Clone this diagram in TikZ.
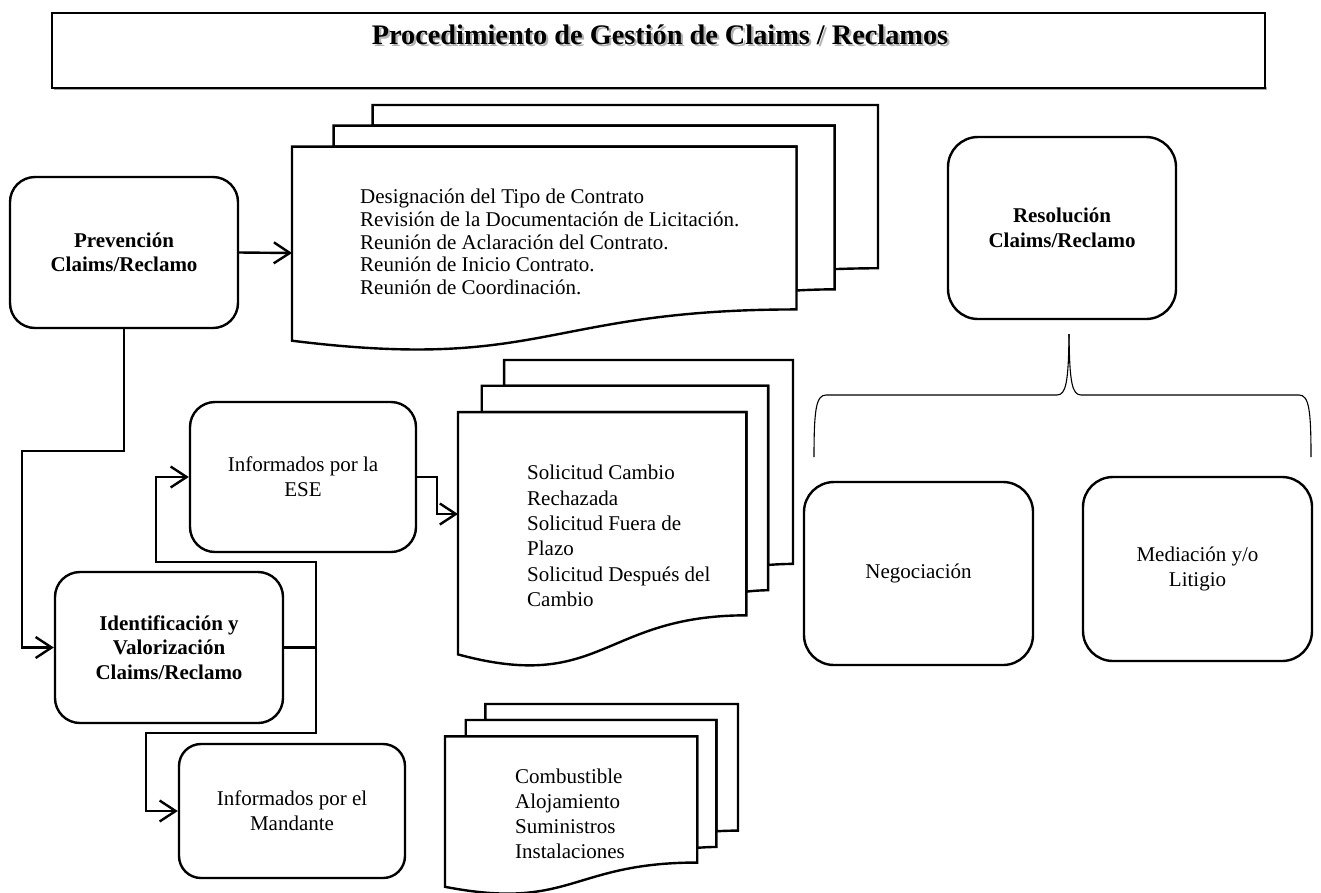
\documentclass[tikz,border=0pt]{standalone}
\usepackage{fontspec}
\setmainfont{Liberation Serif}
\usetikzlibrary{arrows.meta}

% stacked "multidocument" symbol: three pages, front page with wavy bottom
\newcommand{\multidoc}[4]{%
  \begin{scope}[shift={(#1,#2)}, x=#3pt, y=-#4pt]
    \draw[page] (.1376,.0840) -- (.1376,0) -- (1,0) -- (1,.6663)
      .. controls (.9630,.6663) and (.9259,.6698) .. (.9259,.6698) -- (.9259,.0840) -- cycle;
    \draw[page] (.0709,.1701) -- (.0709,.0840) -- (.9259,.0840) -- (.9259,.7524)
      .. controls (.8934,.7524) and (.8609,.7570) .. (.8609,.7570) -- (.8609,.1701) -- cycle;
    \draw[page] (0,.9621) .. controls (.4305,1.0899) and (.4305,.8344) .. (.8609,.8344)
      -- (.8609,.1701) -- (0,.1701) -- cycle;
  \end{scope}}

\tikzset{
  page/.style={draw, fill=white, line width=2.4pt},
  box/.style={draw, fill=white, line width=2.4pt, align=center, inner sep=0pt,
    font=\fontsize{21}{25}\selectfont},
  boldbox/.style={box, font=\fontsize{21}{24.5}\selectfont\bfseries},
  doctext/.style={anchor=west, align=left, inner sep=0pt},
  conn/.style={line width=2.4pt, -{Straight Barb[length=16pt,width=21pt]}},
  brace/.style={line width=1.1pt},
  titlefont/.style={font=\fontsize{28.3}{32}\selectfont\bfseries}
}

\begin{document}
\begin{tikzpicture}[x=1pt, y=-1pt]
\useasboundingbox (0,0) rectangle (1321,892);

% title banner
\fill[black!35] (54,86.5) rectangle (1267,90);
\node[draw, fill=white, line width=2pt, minimum width=1213pt, minimum height=75pt, inner sep=0pt]
  (titlebox) at (658.5,50.5) {};
\node[titlefont, text=black!30] (titleshade) at (662.2,37.2) {Procedimiento de Gestión de Claims / Reclamos};
\node[titlefont] (title) at (660,35) {Procedimiento de Gestión de Claims / Reclamos};

% document stacks
\multidoc{292}{105}{586}{245}
\multidoc{458}{360}{335}{306}
\multidoc{445}{704}{293}{190}

\node[doctext, font=\fontsize{21}{22.7}\selectfont] (docprev) at (360,242)
  {Designación del Tipo de Contrato\\
   Revisión de la Documentación de Licitación.\\
   Reunión de Aclaración del Contrato.\\
   Reunión de Inicio Contrato.\\
   Reunión de Coordinación.};
\node[doctext, font=\fontsize{21}{25.4}\selectfont] (docese) at (527,536)
  {Solicitud Cambio\\ Rechazada\\ Solicitud Fuera de\\ Plazo\\ Solicitud Después del\\ Cambio};
\node[doctext, font=\fontsize{21}{25}\selectfont] (docmand) at (515,814)
  {Combustible\\ Alojamiento\\ Suministros\\ Instalaciones};

\coordinate (d1in) at (292,253);
\coordinate (d2in) at (458,514);

% process boxes
\node[boldbox, rounded corners=25pt, minimum width=228pt, minimum height=151pt]
  (prev) at (124,252.5) {Prevención\\ Claims/Reclamo};
\node[boldbox, rounded corners=30pt, minimum width=228pt, minimum height=182pt]
  (res) at (1062,228) {Resolución\\ Claims/Reclamo};
\node[box, rounded corners=25pt, minimum width=226pt, minimum height=150pt]
  (ese) at (303,477) {Informados por la\\ ESE};
\node[boldbox, rounded corners=25pt, minimum width=228pt, minimum height=151pt]
  (ident) at (169,647.5) {Identificación y\\ Valorización\\ Claims/Reclamo};
\node[box, rounded corners=22pt, minimum width=226pt, minimum height=134pt]
  (mand) at (292,811) {Informados por el\\ Mandante};
\node[box, rounded corners=30pt, minimum width=229pt, minimum height=183pt]
  (nego) at (918.5,573.5) {Negociación};
\node[box, rounded corners=30pt, minimum width=229pt, minimum height=184pt]
  (medi) at (1197.5,569) {Mediación y/o\\ Litigio};

% connectors
\coordinate (jct) at (316,647.5);
\draw[conn] (prev.east) -- (d1in);
\draw[conn] (prev.south) |- (22,451) |- (ident.west);
\draw[conn] (ident.east) -- (jct) |- (156,562) |- (ese.west);
\draw[conn] (jct) |- (146,733) |- (mand.west);
\draw[conn] (ese.east) -| (437,514) -- (d2in);

% brace under the resolution box
\coordinate (btip) at (1069,334);
\draw[brace] (814,457) .. controls (814,410) and (816,395) .. (826,395) -- (1057,395)
  .. controls (1066,395) and (1068.5,382) .. (btip);
\draw[brace] (btip) .. controls (1069.5,382) and (1072,395) .. (1081,395) -- (1299,395)
  .. controls (1309,395) and (1311,410) .. (1311,457);
\end{tikzpicture}
\end{document}
